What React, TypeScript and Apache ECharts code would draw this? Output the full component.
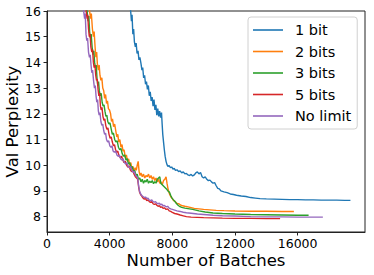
import React, { useEffect, useRef } from "react";
import * as echarts from "echarts";

const seriesNames = ["1 bit", "2 bits", "3 bits", "5 bits", "No limit"];
const colors = ["#1f77b4", "#ff7f0e", "#2ca02c", "#d62728", "#9467bd"];
const xTicks = [0, 4000, 8000, 12000, 16000];
const yTicks = [8, 9, 10, 11, 12, 13, 14, 15, 16];

const oneBit: [number, number][] = [
  [5250, 16.4], [5340, 16.0], [5390, 15.6], [5430, 15.85], [5480, 15.1], [5530, 15.3], [5580, 14.8], [5640, 14.6],
  [5690, 14.75], [5750, 14.35], [5810, 14.45], [5870, 14.1], [5930, 14.2], [6000, 13.95], [6060, 13.7], [6110, 13.8],
  [6170, 13.4], [6230, 13.5], [6290, 13.15], [6350, 13.25], [6410, 12.95], [6470, 13.1], [6530, 12.7], [6590, 12.85],
  [6650, 12.5], [6710, 12.65], [6770, 12.3], [6830, 12.55], [6890, 12.15], [6950, 12.35], [7010, 11.95], [7070, 12.2],
  [7130, 11.9], [7190, 12.1], [7250, 11.85], [7310, 12.05], [7350, 11.6], [7390, 11.2], [7440, 10.9], [7490, 10.6],
  [7540, 10.35], [7600, 10.15], [7660, 10.02], [7720, 9.95], [7800, 9.98], [7880, 9.9], [7960, 9.93], [8040, 9.85],
  [8120, 9.88], [8200, 9.8], [8300, 9.82], [8400, 9.75], [8500, 9.78], [8600, 9.7], [8700, 9.74], [8800, 9.66],
  [8900, 9.68], [9000, 9.62], [9100, 9.6], [9200, 9.64], [9300, 9.58], [9400, 9.62], [9500, 9.7], [9600, 9.74],
  [9700, 9.66], [9800, 9.72], [9900, 9.55], [10000, 9.5], [10100, 9.55], [10200, 9.45], [10300, 9.4], [10400, 9.42],
  [10500, 9.35], [10600, 9.3], [10700, 9.32], [10800, 9.2], [10900, 9.1], [11000, 9.08], [11100, 9.0], [11200, 8.98],
  [11300, 8.96], [11500, 8.93], [11700, 8.88], [11900, 8.86], [12100, 8.83], [12400, 8.8], [12700, 8.78], [13000, 8.74],
  [13300, 8.72], [13600, 8.7], [14000, 8.69], [14500, 8.68], [15000, 8.67], [15500, 8.66], [16000, 8.66], [16500, 8.65],
  [17000, 8.65], [17500, 8.64], [18000, 8.64], [18500, 8.64], [19000, 8.63], [19370, 8.63],
];

const twoBits: [number, number][] = [
  [2600, 16.6], [2720, 16.0], [2780, 15.7], [2830, 15.9], [2900, 15.3], [2960, 15.0], [3010, 15.2], [3070, 14.6],
  [3120, 14.2], [3170, 14.4], [3220, 13.9], [3280, 13.7], [3330, 13.9], [3380, 13.5], [3440, 13.3], [3500, 13.4],
  [3560, 13.0], [3620, 12.9], [3680, 12.6], [3740, 12.75], [3800, 12.4], [3860, 12.5], [3920, 12.2], [3990, 12.15],
  [4060, 12.0], [4120, 11.7], [4180, 11.8], [4250, 11.5], [4320, 11.6], [4400, 11.3], [4460, 11.1], [4520, 11.2],
  [4580, 10.9], [4650, 11.0], [4720, 10.7], [4790, 10.8], [4850, 10.55], [4920, 10.6], [5000, 10.3], [5070, 10.4],
  [5140, 10.15], [5210, 10.25], [5280, 10.0], [5350, 10.1], [5420, 9.85], [5490, 9.95], [5560, 9.75], [5630, 9.9],
  [5700, 9.8], [5760, 10.0], [5820, 10.15], [5880, 9.75], [5940, 9.6], [6000, 9.7], [6080, 9.55], [6160, 9.65],
  [6240, 9.5], [6320, 9.6], [6400, 9.55], [6480, 9.65], [6560, 9.5], [6640, 9.6], [6720, 9.45], [6800, 9.55],
  [6880, 9.4], [6960, 9.5], [7040, 9.35], [7120, 9.45], [7200, 9.3], [7280, 9.35], [7360, 9.25], [7440, 9.4],
  [7520, 9.45], [7600, 9.55], [7660, 9.3], [7720, 9.1], [7780, 8.95], [7840, 8.85], [7920, 8.75], [8000, 8.7],
  [8080, 8.62], [8160, 8.6], [8240, 8.55], [8320, 8.5], [8420, 8.5], [8520, 8.45], [8650, 8.42], [8800, 8.4],
  [9000, 8.38], [9200, 8.35], [9400, 8.32], [9700, 8.3], [10000, 8.28], [10400, 8.26], [10800, 8.24], [11300, 8.23],
  [12000, 8.22], [13000, 8.21], [14000, 8.21], [15000, 8.2], [15760, 8.2],
];

const threeBits: [number, number][] = [
  [2450, 16.6], [2560, 16.0], [2620, 15.6], [2670, 15.8], [2720, 15.2], [2770, 14.95], [2820, 15.1], [2880, 14.6],
  [2940, 14.3], [2990, 14.45], [3040, 14.0], [3090, 13.8], [3140, 13.9], [3190, 13.4], [3240, 13.1], [3290, 13.25],
  [3340, 12.9], [3400, 12.7], [3460, 12.8], [3520, 12.45], [3580, 12.3], [3640, 12.35], [3700, 12.1], [3760, 11.9],
  [3820, 11.95], [3880, 11.7], [3950, 11.6], [4020, 11.65], [4100, 11.4], [4170, 11.2], [4240, 11.25], [4320, 11.0],
  [4400, 10.9], [4480, 10.95], [4560, 10.7], [4640, 10.6], [4720, 10.65], [4800, 10.45], [4880, 10.35], [4960, 10.4],
  [5040, 10.2], [5120, 10.25], [5200, 10.05], [5280, 10.1], [5360, 9.9], [5440, 9.95], [5520, 9.75], [5600, 9.8],
  [5680, 9.6], [5760, 9.65], [5840, 9.45], [5920, 9.5], [6000, 9.35], [6080, 9.45], [6160, 9.3], [6240, 9.4],
  [6320, 9.35], [6400, 9.45], [6480, 9.3], [6560, 9.38], [6640, 9.32], [6720, 9.4], [6800, 9.28], [6880, 9.36],
  [6960, 9.3], [7040, 9.45], [7120, 9.5], [7200, 9.55], [7260, 9.3], [7340, 9.25], [7420, 9.2], [7500, 9.15],
  [7580, 9.1], [7660, 9.05], [7740, 8.98], [7820, 8.95], [7900, 8.82], [7980, 8.72], [8060, 8.66], [8150, 8.6],
  [8250, 8.52], [8350, 8.45], [8450, 8.4], [8600, 8.36], [8800, 8.33], [9000, 8.31], [9300, 8.28], [9700, 8.22],
  [10100, 8.18], [10600, 8.14], [11200, 8.12], [12000, 8.1], [13000, 8.08], [14000, 8.07], [15000, 8.06],
  [16000, 8.05], [16700, 8.05],
];

const fiveBits: [number, number][] = [
  [2380, 16.6], [2500, 16.0], [2560, 15.7], [2600, 15.85], [2650, 15.3], [2700, 15.0], [2750, 15.1], [2800, 14.6],
  [2860, 14.4], [2910, 14.5], [2960, 14.0], [3010, 13.8], [3060, 13.9], [3110, 13.5], [3160, 13.3], [3210, 13.35],
  [3260, 12.95], [3310, 12.7], [3360, 12.8], [3410, 12.3], [3460, 12.15], [3510, 12.25], [3570, 11.9], [3630, 11.75],
  [3690, 11.8], [3750, 11.55], [3820, 11.4], [3890, 11.45], [3960, 11.2], [4030, 11.05], [4100, 11.1], [4170, 10.9],
  [4240, 10.75], [4310, 10.8], [4380, 10.6], [4450, 10.5], [4520, 10.55], [4600, 10.35], [4680, 10.3], [4760, 10.35],
  [4840, 10.2], [4920, 10.1], [5000, 10.15], [5080, 10.0], [5160, 9.92], [5240, 9.97], [5320, 9.82], [5400, 9.75],
  [5480, 9.78], [5560, 9.65], [5640, 9.55], [5720, 9.5], [5790, 9.45], [5850, 9.15], [5910, 8.95], [5980, 8.85],
  [6050, 8.8], [6130, 8.72], [6210, 8.68], [6290, 8.7], [6370, 8.62], [6450, 8.65], [6530, 8.58], [6610, 8.55],
  [6690, 8.58], [6770, 8.5], [6850, 8.47], [6930, 8.5], [7010, 8.44], [7090, 8.4], [7170, 8.43], [7250, 8.36],
  [7330, 8.38], [7410, 8.32], [7500, 8.34], [7600, 8.28], [7700, 8.3], [7800, 8.22], [7900, 8.2], [8000, 8.16],
  [8150, 8.12], [8300, 8.1], [8500, 8.06], [8700, 8.03], [8900, 8.0], [9200, 7.98], [9600, 7.97], [10000, 7.96],
  [10600, 7.95], [11200, 7.94], [12000, 7.93], [13000, 7.93], [14000, 7.92], [14880, 7.92],
];

const noLimit: [number, number][] = [
  [2250, 16.6], [2339, 16.0], [2400, 15.7], [2440, 15.9], [2490, 15.1], [2540, 14.85], [2590, 14.95], [2650, 14.4],
  [2710, 14.2], [2760, 14.3], [2810, 13.9], [2860, 13.6], [2910, 13.7], [2970, 13.3], [3030, 13.0], [3080, 13.1],
  [3130, 12.7], [3180, 12.45], [3230, 12.55], [3280, 12.1], [3330, 11.95], [3380, 12.05], [3440, 11.7], [3500, 11.55],
  [3560, 11.6], [3620, 11.35], [3680, 11.2], [3740, 11.25], [3800, 11.0], [3870, 10.9], [3940, 10.95], [4010, 10.75],
  [4080, 10.7], [4150, 10.75], [4220, 10.55], [4300, 10.5], [4380, 10.55], [4460, 10.4], [4540, 10.35], [4620, 10.4],
  [4700, 10.25], [4780, 10.2], [4860, 10.25], [4940, 10.1], [5020, 10.05], [5100, 10.1], [5180, 9.95], [5260, 9.9],
  [5340, 9.95], [5420, 9.8], [5500, 9.72], [5580, 9.75], [5660, 9.6], [5740, 9.55], [5790, 9.5], [5850, 9.2],
  [5910, 8.98], [5980, 8.88], [6050, 8.82], [6130, 8.78], [6210, 8.74], [6290, 8.76], [6370, 8.7], [6450, 8.72],
  [6530, 8.64], [6610, 8.62], [6690, 8.65], [6770, 8.58], [6850, 8.56], [6930, 8.58], [7010, 8.52], [7090, 8.5],
  [7170, 8.52], [7250, 8.46], [7330, 8.48], [7410, 8.42], [7500, 8.43], [7600, 8.38], [7700, 8.4], [7800, 8.33],
  [7900, 8.3], [8000, 8.28], [8150, 8.25], [8300, 8.22], [8500, 8.2], [8700, 8.17], [8900, 8.15], [9200, 8.13],
  [9600, 8.1], [10000, 8.08], [10600, 8.05], [11200, 8.03], [12000, 8.02], [13000, 8.0], [14000, 7.99],
  [15000, 7.99], [16000, 7.98], [17000, 7.98], [17610, 7.98],
];

const allData = [oneBit, twoBits, threeBits, fiveBits, noLimit];

const FONT = "DejaVu Sans";

export default function App() {
  const ref = useRef<HTMLDivElement>(null);
  useEffect(() => {
    if (!ref.current) return;
    const chart = echarts.init(ref.current, undefined, { renderer: "svg" });
    chart.setOption({
      animation: false,
      backgroundColor: "#ffffff",
      textStyle: { fontFamily: FONT },
      grid: {
        left: 47,
        right: 9,
        top: 11,
        bottom: 43,
        containLabel: false,
        outerBoundsMode: "none",
        show: true,
        borderColor: "#222222",
        borderWidth: 1,
        backgroundColor: "transparent",
      },
      legend: {
        orient: "vertical",
        left: 248,
        top: 17,
        icon: "rect",
        itemWidth: 30,
        itemHeight: 1.6,
        itemGap: 5.5,
        padding: [5, 6, 5, 5],
        backgroundColor: "rgba(255,255,255,0.85)",
        borderColor: "#d0d0d0",
        borderWidth: 1,
        borderRadius: 3,
        textStyle: {
          fontFamily: FONT,
          fontSize: 14.5,
          color: "#000",
          lineHeight: 16,
          padding: [0, 0, 0, 7],
        },
        data: seriesNames,
      },
      xAxis: {
        type: "value",
        min: 0,
        max: 20300,
        name: "Number of Batches",
        nameLocation: "middle",
        nameGap: 20,
        nameMoveOverlap: false,
        nameTextStyle: { fontFamily: FONT, fontSize: 16.5, color: "#000" },
        axisLine: { show: true, lineStyle: { color: "#222222", width: 1 } },
        axisTick: { show: true, length: 3.5, customValues: xTicks, lineStyle: { color: "#222" } },
        axisLabel: {
          customValues: xTicks,
          formatter: (v: number) => String(v),
          fontFamily: FONT,
          fontSize: 12.5,
          color: "#000",
          margin: 5,
        },
        splitLine: { show: false },
      },
      yAxis: {
        type: "value",
        min: 7.4,
        max: 16,
        name: "Val Perplexity",
        nameLocation: "middle",
        nameGap: 26,
        nameMoveOverlap: false,
        nameTextStyle: { fontFamily: FONT, fontSize: 16.5, color: "#000" },
        axisLine: { show: true, lineStyle: { color: "#222222", width: 1 } },
        axisTick: { show: true, length: 3.5, customValues: yTicks, lineStyle: { color: "#222" } },
        axisLabel: {
          customValues: yTicks,
          formatter: (v: number) => String(v),
          fontFamily: FONT,
          fontSize: 12.5,
          color: "#000",
          margin: 6,
        },
        splitLine: { show: false },
      },
      series: allData.map((d, i) => ({
        name: seriesNames[i],
        type: "line",
        data: d,
        showSymbol: false,
        symbol: "none",
        clip: true,
        color: colors[i],
        lineStyle: { color: colors[i], width: 1.4 },
      })),
    });
    return () => chart.dispose();
  }, []);
  return (
    <div
      ref={ref}
      style={{ position: "fixed", left: 0, top: 0, width: 374, height: 275, background: "#fff" }}
    />
  );
}
